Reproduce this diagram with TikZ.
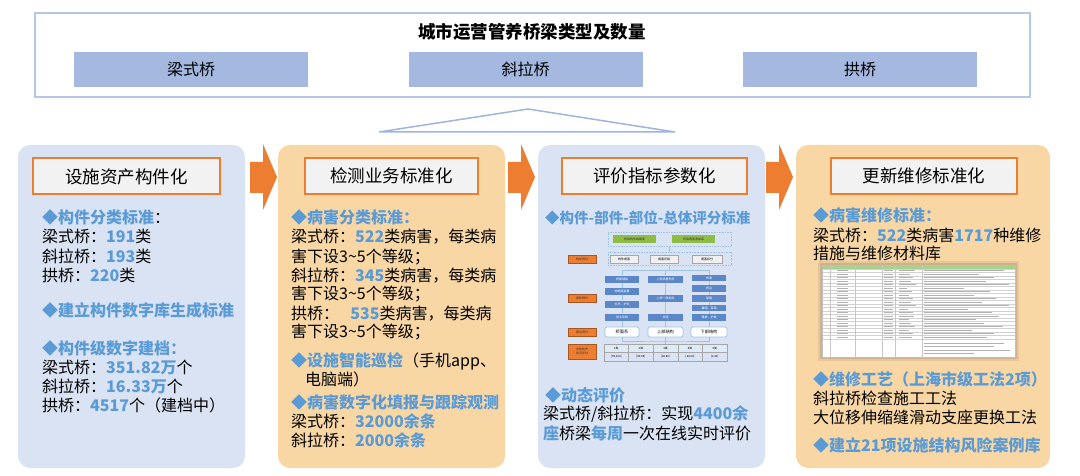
\documentclass[tikz,border=0pt]{standalone}
\usepackage{fontspec}
\setmainfont{Noto Sans CJK SC}
\usepackage{tikz}
\usetikzlibrary{arrows.meta}
\definecolor{hlblue}{HTML}{5B9BD5}
\definecolor{orangeA}{HTML}{ED7D31}
\definecolor{panelblue}{HTML}{DAE3F3}
\definecolor{panelorange}{HTML}{F9D7A5}
\definecolor{topline}{HTML}{B4C7E7}
\definecolor{triline}{HTML}{9DB5E0}
\definecolor{typefill}{HTML}{A4B8E0}
\definecolor{headgray}{HTML}{F2F2F2}
\definecolor{fcblue}{HTML}{5B87C9}
\definecolor{fcgreen}{HTML}{8FBC45}
\definecolor{fcedge}{HTML}{9DC3E6}
\definecolor{cellblue}{HTML}{DDEBF7}
\definecolor{sheetgreen}{HTML}{A9D08E}
\newcommand{\hib}[1]{{\bfseries\color{hlblue}#1}}
\tikzset{
  txt/.style={anchor=west,inner sep=0pt,font=\fontsize{16}{19}\selectfont,text height=14pt,text depth=2pt},
  typebox/.style={fill=typefill,minimum width=234,minimum height=35,inner sep=0pt,font=\fontsize{16}{19}\selectfont},
  headbox/.style={draw=orangeA,line width=2pt,fill=headgray,minimum height=36,inner sep=0pt,font=\fontsize{17.5}{20}\selectfont},
  fcdot/.style={draw=fcedge,densely dotted,line width=0.6pt,inner sep=0pt},
  fcgreen/.style={fill=fcgreen,minimum height=8,inner sep=0pt,font=\fontsize{3}{3.4}\selectfont,text=black!80},
  fcgray/.style={fill=gray!12,draw=gray!70,line width=0.4pt,minimum height=8,inner sep=0pt,font=\fontsize{3}{3.4}\selectfont},
  fcbox/.style={fill=fcblue,minimum height=7,inner sep=0pt,text=white,font=\fontsize{3}{3.4}\selectfont},
  fcwhite/.style={fill=white,draw=fcedge,line width=0.8pt,rounded corners=1.5pt,minimum height=10,inner sep=0pt,font=\fontsize{4.2}{4.6}\selectfont},
  fclabel/.style={fill=orangeA,draw=orangeA!70!black,line width=0.3pt,minimum width=28,minimum height=8,inner sep=0pt,align=center,font=\fontsize{3}{3.4}\selectfont,text=black!80},
  fccell/.style={draw=gray!70,line width=0.4pt,minimum width=24.6,inner sep=0pt,font=\fontsize{2.8}{3}\selectfont},
  fcline/.style={draw=fcedge,line width=0.6pt}
}
\begin{document}
\begin{tikzpicture}[x=1pt,y=-1pt]
\useasboundingbox (0,0) rectangle (1080,476);

\draw[topline,line width=1.5pt,fill=white] (35,13) rectangle (1030,97);
\node[font=\fontsize{17.5}{20}\selectfont\bfseries] (title) at (532,32) {城市运营管养桥梁类型及数量};
\node[typebox] (liang) at (191,69.5) {梁式桥};
\node[typebox] (xiela) at (525.5,69.5) {斜拉桥};
\node[typebox] (gong) at (860,69.5) {拱桥};
\draw[triline,line width=1.5pt] (379,132) -- (528,109) -- (675,132) -- cycle;

\fill[panelblue,rounded corners=12pt] (18,145) rectangle (245,468);
\fill[panelorange,rounded corners=12pt] (278,145) rectangle (505,468);
\fill[panelblue,rounded corners=12pt] (538,145) rectangle (765,468);
\fill[panelorange,rounded corners=12pt] (796,145) rectangle (1050,468);
\foreach \x in {250,508,766}
  \fill[orangeA] (\x,162) -- (\x+13,162) -- (\x+13,144) -- (\x+27,177) -- (\x+13,210) -- (\x+13,193) -- (\x,193) -- cycle;

\node[headbox,minimum width=187] (head1) at (126.5,176.5) {设施资产构件化};
\node[headbox,minimum width=173] (head2) at (391.5,176) {检测业务标准化};
\node[headbox,minimum width=185] (head3) at (654.5,176) {评价指标参数化};
\node[headbox,minimum width=186] (head4) at (924,176) {更新维修标准化};

% panel 1
\node[txt] (p1a) at (42,218) {\hib{◆构件分类标准}：};
\node[txt] (p1b) at (42,237) {梁式桥：\hib{191}类};
\node[txt] (p1c) at (42,256) {斜拉桥：\hib{193}类};
\node[txt] (p1d) at (42,275) {拱桥：\hib{220}类};
\node[txt] (p1e) at (42,310) {\hib{◆建立构件数字库生成标准}};
\node[txt] (p1f) at (42,348) {\hib{◆构件级数字建档：}};
\node[txt] (p1g) at (42,367) {梁式桥：\hib{351.82万}个};
\node[txt] (p1h) at (42,386) {斜拉桥：\hib{16.33万}个};
\node[txt] (p1i) at (42,405) {拱桥：\hib{4517}个（建档中）};

% panel 2
\node[txt] (p2a) at (291,218) {\hib{◆病害分类标准：}};
\node[txt] (p2b) at (291,237) {梁式桥：\hib{522}类病害，每类病};
\node[txt] (p2c) at (291,256) {害下设3\textasciitilde5个等级；};
\node[txt] (p2d) at (291,275) {斜拉桥：\hib{345}类病害，每类病};
\node[txt] (p2e) at (291,293) {害下设3\textasciitilde5个等级；};
\node[txt] (p2f) at (291,313) {拱桥：\hspace{0.7em}\hib{535}类病害，每类病};
\node[txt] (p2g) at (291,331) {害下设3\textasciitilde5个等级；};
\node[txt] (p2h) at (291,360) {\hib{◆设施智能巡检}（手机app、};
\node[txt] (p2i) at (305,379) {电脑端）};
\node[txt] (p2j) at (291,402) {\hib{◆病害数字化填报与跟踪观测}};
\node[txt] (p2k) at (291,421) {梁式桥：\hib{32000余条}};
\node[txt] (p2l) at (291,440) {斜拉桥：\hib{2000余条}};

% panel 3
\node[txt,font=\fontsize{14.5}{17}\selectfont] (p3a) at (545,218) {\hib{◆构件-部件-部位-总体评分标准}};
\node[fcdot,minimum width=123,minimum height=14] (d1) at (669.5,239) {};
\node[fcgreen,minimum width=43] (g1) at (634.5,239) {桥梁构件档案库};
\node[fcgreen,minimum width=43] (g2) at (693.5,239) {桥梁病害清单库};
\node[fcdot,minimum width=123,minimum height=13] (d2) at (669.5,258.5) {};
\node[fcgray,minimum width=28] (c1) at (624,259) {构件病害};
\node[fcgray,minimum width=28] (c2) at (664,259) {病害评级};
\node[fcgray,minimum width=30] (c3) at (707,259) {病害扣分};
\node[fcbox,minimum width=34] (a1) at (622,279) {桥面铺装};
\node[fcbox,minimum width=34] (a2) at (622,291.5) {伸缩缝装置};
\node[fcbox,minimum width=34] (a3) at (622,304) {栏杆、护栏};
\node[fcbox,minimum width=34] (a4) at (622,317) {排水系统};
\node[fcbox,minimum width=35] (b1) at (665.5,279) {上部承重构件};
\node[fcbox,minimum width=35] (b2) at (665.5,298.5) {上部一般构件};
\node[fcbox,minimum width=35] (b3) at (665.5,317) {支座};
\node[fcbox,minimum width=34,minimum height=6.5] (e1) at (709,278) {桥墩};
\node[fcbox,minimum width=34,minimum height=6.5] (e2) at (709,288.5) {桥台};
\node[fcbox,minimum width=34,minimum height=6.5] (e3) at (709,298.5) {基础};
\node[fcbox,minimum width=34,minimum height=6.5] (e4) at (709,308) {翼墙、耳墙};
\node[fcbox,minimum width=34,minimum height=6.5] (e5) at (709,317.5) {锥坡、护坡};
\node[fcwhite,minimum width=34] (w1) at (622,332) {桥面系};
\node[fcwhite,minimum width=35] (w2) at (665.5,332) {上部结构};
\node[fcwhite,minimum width=36] (w3) at (709,332) {下部结构};
\foreach \i/\k/\r in {0/1类/{[95,100]},1/2类/{[80,95)},2/3类/{[60,80)},3/4类/{[40,60)},4/5类/{[0,40)}}{
  \node[fccell,fill=cellblue,minimum height=8] (tk\i) at (616.3+24.6*\i,348) {\k};
  \node[fccell,minimum height=9] (tr\i) at (616.3+24.6*\i,356.5) {\r};
}
\node[fclabel] (l1) at (582,259) {构件得分};
\node[fclabel] (l2) at (582,298.5) {部件得分};
\node[fclabel] (l3) at (582,332) {部位得分};
\node[fclabel,minimum height=15] (l4) at (582,351.5) {总体技术\\状况评分};
\draw[fcline,-{Latex[length=2pt,width=2pt]}] (d1) -- (d2);
\draw[fcline] (d2.south) -- ++(0,5) coordinate (bar);
\draw[fcline] (a1.north) |- (bar) -| (e1.north);
\draw[fcline] (b1.north) -- (b1.north |- bar);
\foreach \p/\q in {a1/a2,a2/a3,a3/a4,a4/w1,b1/b2,b2/b3,b3/w2,e1/e2,e2/e3,e3/e4,e4/e5,e5/w3}
  \draw[fcline] (\p) -- (\q);
\coordinate (bar2) at (665.5,341);
\draw[fcline] (w1.south) |- (bar2) -| (w3.south);
\draw[fcline] (w2.south) -- (tk2.north);
\node[txt] (p3b) at (545,395) {\hib{◆动态评价}};
\node[txt] (p3c) at (543,413) {梁式桥/斜拉桥：实现\hib{4400余}};
\node[txt] (p3d) at (543,433) {\hib{座}桥梁\hib{每周}一次在线实时评价};

% panel 4
\node[txt] (p4a) at (813,216) {\hib{◆病害维修标准：}};
\node[txt] (p4b) at (813,235) {梁式桥：\hib{522}类病害\hib{1717}种维修};
\node[txt] (p4c) at (813,253) {措施与维修材料库};
\fill[black,opacity=0.07] (818,261) rectangle (1019,361);
\fill[black,opacity=0.1] (820,263) rectangle (1017,359);
\fill[white] (822,265) rectangle (1015,357);
\fill[sheetgreen] (822,265) rectangle (1015,269);
\foreach \r/\l in {0/80,1/55,2/70,3/62,4/85,5/40,6/66,7/50,8/72,9/58,10/85,11/44,12/68,13/75,14/52,15/60,16/79,17/48,18/70,19/63}{
  \draw[gray!35,line width=0.3pt] (822,269+3.5*\r) -- (1015,269+3.5*\r);
  \draw[gray!60,line width=0.7pt] (924,270.75+3.5*\r) -- ++(\l,0);
  \draw[gray!60,line width=0.7pt] (837,270.75+3.5*\r) -- ++(11,0);
  \draw[gray!60,line width=0.7pt] (884,270.75+3.5*\r) -- ++(9,0);
  \draw[gray!60,line width=0.7pt] (899,270.75+3.5*\r) -- ++(0.2*\l,0);
}
\draw[gray!35,line width=0.3pt] (822,339) -- (1015,339);
\foreach \y/\l in {343/80,346.5/70,350/86,353.5/50}
  \draw[gray!60,line width=0.7pt] (924,\y) -- ++(\l,0);
\foreach \x in {830,855,882,895,922}
  \draw[gray!45,line width=0.4pt] (\x,265) -- (\x,357);
\draw[gray!50,line width=0.4pt] (822,265) rectangle (1015,357);
\node[txt] (p4d) at (813,379) {\hib{◆维修工艺（上海市级工法2项）}};
\node[txt] (p4e) at (813,398) {斜拉桥检查施工工法};
\node[txt] (p4f) at (813,417) {大位移伸缩缝滑动支座更换工法};
\node[txt] (p4g) at (813,445) {\hib{◆建立21项设施结构风险案例库}};
\end{tikzpicture}
\end{document}
